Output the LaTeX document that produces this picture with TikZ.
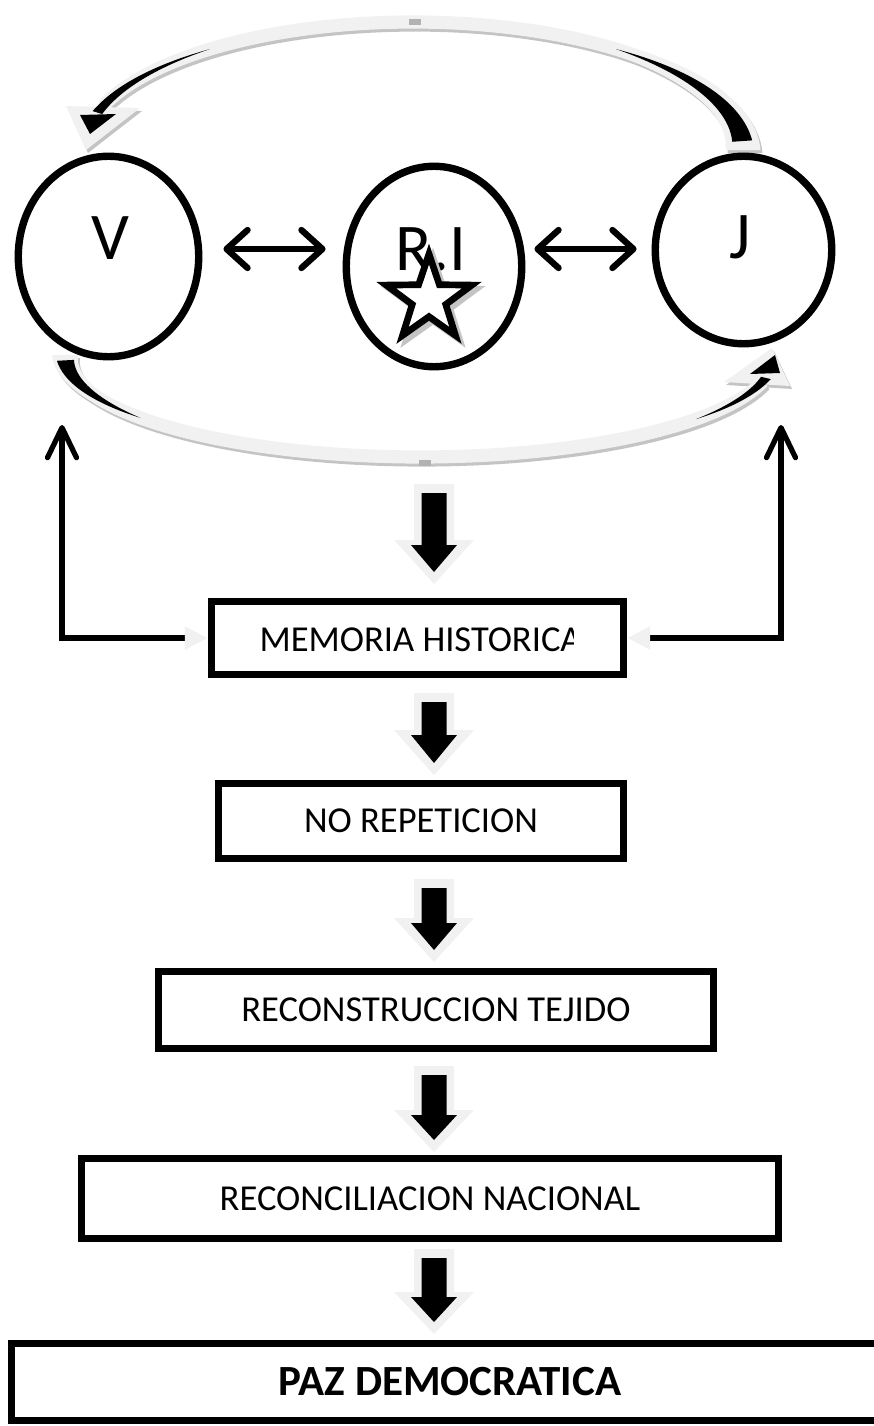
\documentclass[tikz,border=0pt]{standalone}
\usepackage{fontspec}
\setmainfont{Carlito}
\usetikzlibrary{arrows.meta,shapes.geometric}

\definecolor{halo}{RGB}{241,241,241}
\definecolor{shadowgray}{RGB}{196,196,196}

% banda curva de ancho variable sobre una elipse
% {color}{cx}{cy}{rx}{ry}{t1}{t2}{ancho en t1}{ancho en t2}
\newcommand{\taper}[9]{%
  \fill[#1] plot[domain=#6:#7, samples=40]
    ({#2+(#4+0.5*(#8+(#9-#8)*(\x-#6)/(#7-#6)))*cos(\x)},
     {#3+(#5+0.5*(#8+(#9-#8)*(\x-#6)/(#7-#6)))*sin(\x)})
    -- plot[domain=#7:#6, samples=40]
    ({#2+(#4-0.5*(#8+(#9-#8)*(\x-#6)/(#7-#6)))*cos(\x)},
     {#3+(#5-0.5*(#8+(#9-#8)*(\x-#6)/(#7-#6)))*sin(\x)})
    -- cycle;}

\begin{document}
\begin{tikzpicture}[
  x=0.02cm, y=-0.02cm,
  circ/.style   = {ellipse, draw, line width=4.2pt, inner sep=0pt},
  letter/.style = {font=\fontsize{38}{40}\selectfont, inner sep=0pt},
  box/.style    = {draw, line width=4pt, inner sep=0pt,
                   font=\fontsize{20.8}{24}\selectfont},
  starshape/.style = {star, star points=5, star point ratio=2.55,
                   minimum size=1.8cm, inner sep=0pt, line width=3.8pt},
  band/.style   = {line width=7.5pt},
  barb/.tip     = {Straight Barb[round,length=0.42cm,width=0.76cm,line width=3.6pt]},
  upbarb/.tip   = {Straight Barb[round,length=0.6cm,width=0.58cm,line width=3pt]},
  dbl/.style    = {barb-barb, line width=3.6pt},
  fb/.style     = {{Triangle[color=halo,length=0.46cm,width=0.44cm]}-upbarb, line width=3.4pt}
]
  \useasboundingbox (0,0) rectangle (874,1426);
  \clip (0,0) rectangle (874,1426);

  % Flecha curva superior (J -> V)
  \begin{scope}[shift={(2,3)}]
    \draw[band, shadowgray] plot[domain=200:358, samples=80] ({413+330*cos(\x)},{150+128*sin(\x)});
    \taper{shadowgray}{413}{150}{330}{128}{310}{360}{13}{35}
    \fill[shadowgray] (66,106) -- (140,108) -- (86,150) -- cycle;
  \end{scope}
  \draw[band, halo] plot[domain=200:358, samples=80] ({413+330*cos(\x)},{150+128*sin(\x)});
  \taper{halo}{413}{150}{330}{128}{310}{360}{13}{35}
  \fill[halo] (66,106) -- (140,108) -- (86,150) -- cycle;
  \taper{black}{413}{150}{330}{128}{308}{356}{0}{20}
  \taper{black}{413}{150}{330}{128}{197}{232}{10}{0}
  \fill (80,115) -- (116,114) -- (90,134) -- cycle;
  \fill[gray!60] (409,19) rectangle (421,25);

  % Flecha curva inferior (V -> J)
  \begin{scope}[shift={(2,3)}]
    \draw[band, shadowgray] plot[domain=15:180, samples=80] ({420+355*cos(\x)},{355+102*sin(\x)});
    \taper{shadowgray}{420}{355}{355}{102}{150}{180}{13}{26}
    \fill[shadowgray] (724,382) -- (790,386) -- (772,348) -- cycle;
  \end{scope}
  \draw[band, halo] plot[domain=15:180, samples=80] ({420+355*cos(\x)},{355+102*sin(\x)});
  \taper{halo}{420}{355}{355}{102}{150}{180}{13}{26}
  \fill[halo] (724,382) -- (790,386) -- (772,348) -- cycle;
  \taper{black}{420}{355}{355}{102}{142}{177}{0}{17}
  \taper{black}{420}{355}{355}{102}{13}{39}{10}{0}
  \fill (750,374) -- (780,373) -- (775,355) -- cycle;
  \fill[gray!60] (419,460) rectangle (431,466);

  % Circulos
  \node[circ, minimum width=3.61cm, minimum height=4.01cm] (V)  at (108.5,256.5) {};
  \node[circ, minimum width=3.51cm, minimum height=4.01cm] (RI) at (434,266.5) {};
  \node[circ, minimum width=3.53cm, minimum height=3.75cm] (J)  at (743.5,250) {};
  \node[letter] (Vlab)  at (110,238) {V};
  \node[letter] (RIlab) at (431,249) {R.I};
  \node[letter] (Jlab)  at (740,237) {J};

  % Estrella
  \node[starshape, draw=shadowgray, fill=shadowgray] (starsh) at (433,303) {};
  \node[starshape, draw, fill=white] (star) at (429,299) {};

  % Flechas dobles
  \draw[dbl, shorten <=0.42cm, shorten >=0.34cm] (V.east |- 0,249) -- (RI.west |- 0,249);
  \draw[dbl, shorten <=0.18cm, shorten >=0.30cm] (RI.east |- 0,249) -- (J.west |- 0,249);

  % Cajas
  \node[box, minimum width=8.25cm, minimum height=1.47cm] (mem) at (417.5,638) {};
  \begin{scope}
    \clip (250,600) rectangle (573,676);
    \node[box, draw=none, anchor=west] (memtxt) at (256,640) {MEMORIA HISTORICA};
  \end{scope}
  \node[box, minimum width=8.11cm, minimum height=1.51cm]  (norep) at (421,821)    {NO REPETICION};
  \node[box, minimum width=11.11cm, minimum height=1.55cm] (tejido) at (436,1010)  {RECONSTRUCCION TEJIDO};
  \node[box, minimum width=13.95cm, minimum height=1.61cm] (nacion) at (430,1198.5) {RECONCILIACION NACIONAL};
  \node[box, minimum width=17.54cm, minimum height=1.54cm,
        font=\fontsize{24.5}{28}\selectfont\bfseries] (paz) at (450,1382) {PAZ DEMOCRATICA};

  % Retorno de la memoria historica hacia V y J
  \coordinate (vL) at (62,425);
  \coordinate (jR) at (781,425);
  \draw[fb] (mem.west) -| (vL);
  \draw[fb] (mem.east) -| (jR);

  % Flechas de bloque
  \foreach \yt/\yb/\yp in {493/545/572, 702/735/763, 888/923/950, 1075/1115/1140, 1258/1297/1322}{
    \fill[halo] (414,\yt-9) -- (454,\yt-9) -- (454,\yb-5) -- (474,\yb-5)
                -- (434,\yp+12) -- (394,\yb-5) -- (414,\yb-5) -- cycle;
    \fill (421.5,\yt) -- (446.5,\yt) -- (446.5,\yb) -- (457,\yb)
          -- (434,\yp) -- (411,\yb) -- (421.5,\yb) -- cycle;
  }
\end{tikzpicture}
\end{document}
